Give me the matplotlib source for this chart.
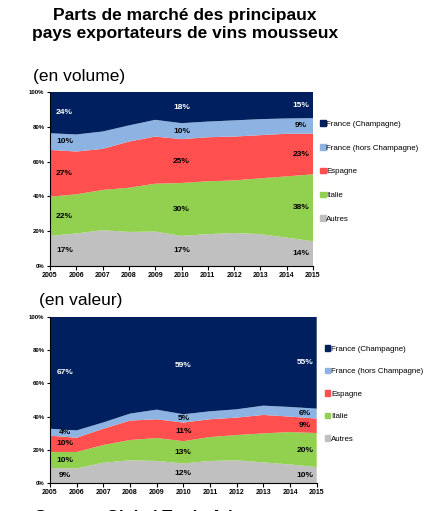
import numpy as np
import matplotlib.pyplot as plt
from matplotlib.patches import Patch

plt.rcParams['font.family'] = ['Liberation Sans', 'DejaVu Sans']

years = [2005, 2006, 2007, 2008, 2009, 2010, 2011, 2012, 2013, 2014, 2015]
series_names = ["Autres", "Italie", "Espagne", "France (hors Champagne)", "France (Champagne)"]
colors = ["#c0c0c0", "#92d050", "#ff4f4f", "#8db3e2", "#001f5f"]

# parts en volume (%)
autres_vol = [17.3, 18.7, 20.6, 19.6, 19.8, 17.3, 18.3, 19.0, 18.3, 16.3, 14.2]
italie_vol = [22.5, 22.5, 23.1, 25.4, 27.5, 30.4, 30.4, 30.2, 32.1, 35.2, 38.5]
espagne_vol = [26.9, 24.6, 23.6, 26.5, 27.1, 25.2, 25.3, 25.2, 24.8, 24.5, 23.3]
hors_vol = [9.6, 9.8, 10.0, 9.3, 9.6, 9.2, 9.0, 9.3, 9.2, 8.8, 9.0]
champ_vol = [23.7, 24.4, 22.7, 19.2, 16.0, 17.9, 17.0, 16.3, 15.6, 15.2, 15.0]

# parts en valeur (%)
autres_val = [9.0, 8.8, 12.2, 13.7, 13.3, 11.8, 13.3, 13.7, 12.4, 11.2, 9.6]
italie_val = [9.7, 9.9, 10.7, 12.2, 13.8, 13.4, 14.4, 15.2, 17.5, 19.5, 20.5]
espagne_val = [9.8, 8.6, 9.8, 11.7, 11.3, 11.2, 10.7, 10.5, 11.1, 9.3, 8.7]
hors_val = [4.2, 4.4, 3.8, 4.2, 5.8, 5.0, 4.8, 5.0, 5.6, 5.8, 6.0]
champ_val = [67.3, 68.3, 63.5, 58.2, 55.8, 58.6, 56.8, 55.6, 53.4, 54.2, 55.2]

# labels shown on the chart (2005, 2010, 2015), bottom to top
label_years = [2005, 2010, 2015]
labels_vol = [[17, 22, 27, 10, 24], [17, 30, 25, 10, 18], [14, 38, 23, 9, 15]]
labels_val = [[9, 10, 10, 4, 67], [12, 13, 11, 5, 59], [10, 20, 9, 6, 55]]
label_x = [2005.55, 2010, 2014.55]


def draw(ax, data, labels):
    ax.stackplot(years, data, colors=colors, linewidth=0)
    ax.set_xlim(2005, 2015)
    ax.set_ylim(0, 100)
    ax.set_xticks(years)
    ax.set_xticklabels([str(y) for y in years], fontsize=5, fontweight="bold")
    ax.set_yticks(range(0, 101, 20))
    ax.set_yticklabels(["%d%%" % v for v in range(0, 101, 20)], fontsize=4.3, fontweight="bold")
    ax.tick_params(axis="x", length=3, width=0.8, pad=1)
    ax.tick_params(axis="y", length=2, width=0.8, pad=2)
    for s in ["top", "right"]:
        ax.spines[s].set_visible(False)
    for s in ["left", "bottom"]:
        ax.spines[s].set_linewidth(0.8)
    arr = np.array(data)
    cum = np.cumsum(arr, axis=0)
    for j, yr in enumerate(label_years):
        i = years.index(yr)
        for k in range(len(series_names)):
            bottom = cum[k, i] - arr[k, i]
            yc = bottom + arr[k, i] / 2
            col = "white" if k == 4 else "black"
            ax.text(label_x[j], yc, "%d%%" % labels[j][k], fontsize=6, fontweight="bold",
                    color=col, ha="center", va="center")
    handles = [Patch(color=c, label=n) for c, n in zip(colors, series_names)][::-1]
    return handles


fig = plt.figure(figsize=(4.4, 5.11), dpi=100)

fig.text(0.42, 0.985, "Parts de marché des principaux\npays exportateurs de vins mousseux",
         ha="center", va="top", fontsize=12.5, fontweight="bold", linespacing=1.25)
fig.text(33 / 440, 1 - 76 / 511, "(en volume)", ha="left", va="center", fontsize=12.5)
fig.text(39 / 440, 1 - 300 / 511, "(en valeur)", ha="left", va="center", fontsize=12.5)

ax1 = fig.add_axes([50 / 440, 1 - 266 / 511, 263 / 440, 174 / 511])
h = draw(ax1, [autres_vol, italie_vol, espagne_vol, hors_vol, champ_vol], labels_vol)
ax1.legend(handles=h, loc="upper left", bbox_to_anchor=(1.015, 0.855), frameon=False,
           fontsize=5.7, handlelength=0.7, handleheight=0.7, handletextpad=0.1,
           labelspacing=2.05, borderaxespad=0)

ax2 = fig.add_axes([50 / 440, 1 - 483 / 511, 266.7 / 440, 166 / 511])
h = draw(ax2, [autres_val, italie_val, espagne_val, hors_val, champ_val], labels_val)
ax2.legend(handles=h, loc="upper left", bbox_to_anchor=(1.019, 0.85), frameon=False,
           fontsize=5.7, handlelength=0.7, handleheight=0.7, handletextpad=0.1,
           labelspacing=1.9, borderaxespad=0)

fig.text(35 / 440, 1 - 510 / 511, "Source : Global Trade Atlas", ha="left", va="top",
         fontsize=12, fontweight="bold")

fig.savefig("out.png", dpi=100)
